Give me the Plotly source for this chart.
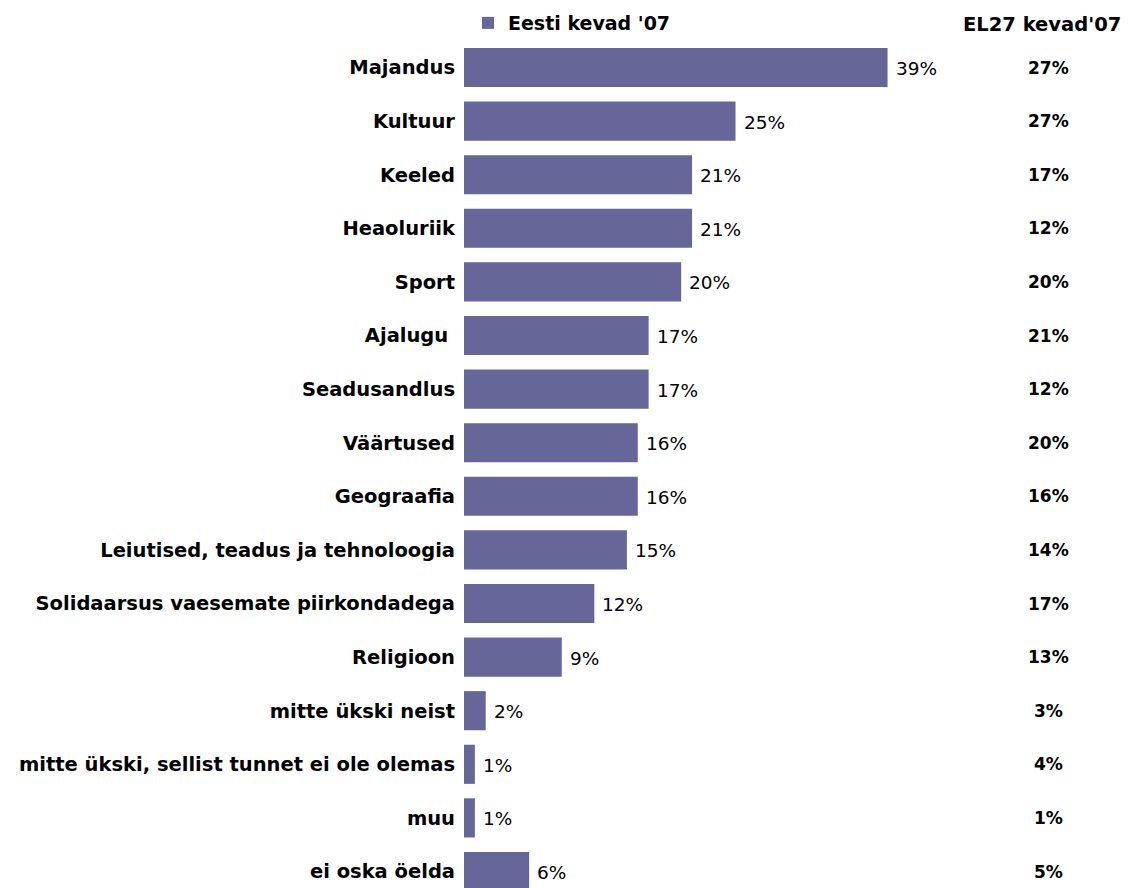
import plotly.graph_objects as go

categories = ["Majandus", "Kultuur", "Keeled", "Heaoluriik", "Sport", "Ajalugu\u00a0",
              "Seadusandlus", "Väärtused", "Geograafia",
              "Leiutised, teadus ja tehnoloogia",
              "Solidaarsus vaesemate piirkondadega", "Religioon",
              "mitte ükski neist", "mitte ükski, sellist tunnet ei ole olemas",
              "muu", "ei oska öelda"]
eesti = [39, 25, 21, 21, 20, 17, 17, 16, 16, 15, 12, 9, 2, 1, 1, 6]
el27 = [27, 27, 17, 12, 20, 21, 12, 20, 16, 14, 17, 13, 3, 4, 1, 5]

series_name = "Eesti kevad '07"
el27_title = "EL27 kevad'07"

# page has an 8px body margin, so the figure is sized to fit inside it
OFF = 8
W, H = 1131 - OFF, 888 - OFF
L, T = 464 - OFF, 40 - OFF
PW, PH = W - L, H - T
font = "DejaVu Sans"

fig = go.Figure()
fig.add_trace(go.Bar(
    y=categories, x=eesti, orientation="h", name=series_name,
    marker=dict(color="#666699", line=dict(width=0)),
    hoverinfo="skip", showlegend=True))

# value labels right of the bars
for c, v in zip(categories, eesti):
    fig.add_annotation(x=v, xref="x", y=c, yref="y", text=f"{v}%",
                       showarrow=False, xanchor="left", xshift=6, yshift=-1,
                       font=dict(family=font, size=18.5, color="#000000"))

# EL27 column on the right
for c, v in zip(categories, el27):
    fig.add_annotation(x=(1048 - 464) / PW, xref="paper", y=c, yref="y",
                       xanchor="center", text=f"<b>{v}%</b>", showarrow=False,
                       font=dict(family=font, size=17, color="#000000"))

fig.add_annotation(x=(1042 - 464) / PW, xref="paper", y=1 + (40 - 25) / PH,
                   yref="paper", xanchor="center", yanchor="middle",
                   text=f"<b>{el27_title}</b>", showarrow=False,
                   font=dict(family=font, size=19.5, color="#000000"))

px_per_unit = 53.6
top_idx = (40 - 67.5) / px_per_unit
bot_idx = (888 - 67.5) / px_per_unit

fig.update_layout(
    width=W, height=H,
    margin=dict(l=L, r=0, t=T, b=0, autoexpand=False),
    paper_bgcolor="white", plot_bgcolor="white",
    bargap=0.27,
    xaxis=dict(visible=False, range=[0, PW / 10.86], fixedrange=True),
    yaxis=dict(type="category", range=[bot_idx, top_idx], showgrid=False,
               showline=False, zeroline=False, ticks="", ticklabelstandoff=8,
               tickfont=dict(family=font, size=19.5, color="#000000", weight="bold"),
               automargin=False, fixedrange=True),
    legend=dict(orientation="h", x=4 / PW, xanchor="left",
                y=1 + (40 - 23) / PH, yanchor="middle",
                font=dict(family=font, size=19, color="#000000", weight="bold"),
                bgcolor="rgba(0,0,0,0)", itemwidth=30),
    showlegend=True,
)

fig.write_html("out.html")
